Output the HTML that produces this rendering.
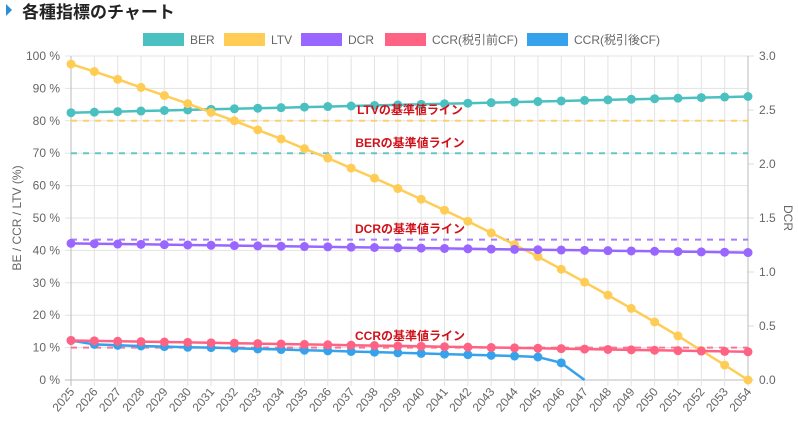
<!DOCTYPE html>
<html><head><meta charset="utf-8"><style>
html,body{margin:0;padding:0;background:#fff;width:798px;height:430px;overflow:hidden}
svg{display:block;font-family:"Liberation Sans","Noto Sans CJK JP",sans-serif}
</style></head><body>
<svg id="s" width="798" height="430" xmlns="http://www.w3.org/2000/svg"></svg>
<script>
const s=document.getElementById('s');
let h='';
const X0=71,X1=748,Y0=380,Y1=56;
const xs=i=>X0+(X1-X0)*i/29;
const yp=v=>Y0-(Y0-Y1)*v/100;
const yr=v=>Y0-(Y0-Y1)*v/3;
// title
h+='<polygon points="6,4 12,10 6,16" fill="#2b8fd8"/>';
h+='<text x="22" y="18" font-size="17" font-weight="bold" fill="#222">各種指標のチャート</text>';
// legend
const leg=[[143,'#4bc0c0','BER'],[224,'#ffcd56','LTV'],[301,'#9966ff','DCR'],[385,'#ff6384','CCR(税引前CF)'],[527,'#36a2eb','CCR(税引後CF)']];
leg.forEach(l=>{h+=`<rect x="${l[0]}" y="33" width="41" height="13" fill="${l[1]}"/><text x="${l[0]+47}" y="44" font-size="12" fill="#666">${l[2]}</text>`;});
// grid
for(let i=0;i<=10;i++){const y=yp(i*10);h+=`<line x1="${X0-6}" x2="${X1}" y1="${y}" y2="${y}" stroke="${i==0?'#bbb':'#e3e3e3'}"/><text x="${X0-11}" y="${y+4}" font-size="12" fill="#666" text-anchor="end">${i*10} %</text>`;}
for(let i=0;i<=6;i++){const y=yr(i*0.5);h+=`<line x1="${X1}" x2="${X1+6}" y1="${y}" y2="${y}" stroke="#ddd"/><text x="${X1+11}" y="${y+4}" font-size="12" fill="#666">${(i*0.5).toFixed(1)}</text>`;}
for(let i=0;i<30;i++){const x=xs(i);h+=`<line x1="${x}" x2="${x}" y1="${Y1}" y2="${Y0+6}" stroke="${i==0?'#bbb':'#e3e3e3'}"/><text transform="translate(${x+4},${Y0+12}) rotate(-50)" font-size="12" fill="#666" text-anchor="end">${2025+i}</text>`;}
h+=`<line x1="${X1}" x2="${X1}" y1="${Y1}" y2="${Y0}" stroke="#bbb"/>`;
h+=`<text transform="translate(21,218) rotate(-90)" font-size="12" fill="#666" text-anchor="middle">BE / CCR / LTV (%)</text>`;
h+=`<text transform="translate(784,218) rotate(90)" font-size="12" fill="#666" text-anchor="middle">DCR</text>`;
// baselines
const bl=[[yp(80),'#ffcd56','LTVの基準値ライン',110],[yp(70),'#4bc0c0','BERの基準値ライン',143],[yr(1.3),'#9966ff','DCRの基準値ライン',229],[yp(10),'#ff6384','CCRの基準値ライン',336]];
bl.forEach(b=>{h+=`<line x1="${X0}" x2="${X1}" y1="${b[0]}" y2="${b[0]}" stroke="${b[1]}" stroke-width="2" stroke-dasharray="6,6" opacity="0.85"/>`;});
// series
const ltv=[97.5,95.2,92.8,90.3,87.8,85.3,82.6,80,77.2,74.4,71.4,68.5,65.4,62.3,59.1,55.8,52.4,49,45.4,41.8,38.1,34.2,30.2,26.2,22.1,17.9,13.6,9.1,4.6,0];
const ber=[],dcr=[],ccr1=[];
for(let i=0;i<30;i++){ber.push(82.5+5*i/29);dcr.push(1.265-0.085*i/29);ccr1.push(12.2-3.5*i/29);}
const ccr2=[12.2,11,10.7,10.5,10.3,10.1,10,9.8,9.6,9.4,9.2,9,8.8,8.6,8.4,8.2,8,7.8,7.6,7.4,7.1,5.3];
function ser(arr,f,c,r){let p=arr.map((v,i)=>xs(i).toFixed(1)+','+f(v).toFixed(1)).join(' ');h+=`<polyline points="${p}" fill="none" stroke="${c}" stroke-width="2.5"/>`;arr.forEach((v,i)=>{h+=`<circle cx="${xs(i)}" cy="${f(v)}" r="${r}" fill="${c}"/>`});}
ser(ber,yp,'#4bc0c0',4.5);
ser(ltv,yp,'#ffcd56',4.5);
ser(dcr,yr,'#9966ff',4.5);
h+=`<polyline points="${xs(21)},${yp(5.3)} ${xs(22)},${Y0}" fill="none" stroke="#36a2eb" stroke-width="2.5"/>`;
ser(ccr2,yp,'#36a2eb',4.5);
ser(ccr1,yp,'#ff6384',4.5);
bl.forEach(b=>{h+=`<text x="410" y="${b[3]+4}" font-size="12" font-weight="bold" fill="#d0121b" text-anchor="middle">${b[2]}</text>`;});
s.innerHTML=h;
</script>
</body></html>
